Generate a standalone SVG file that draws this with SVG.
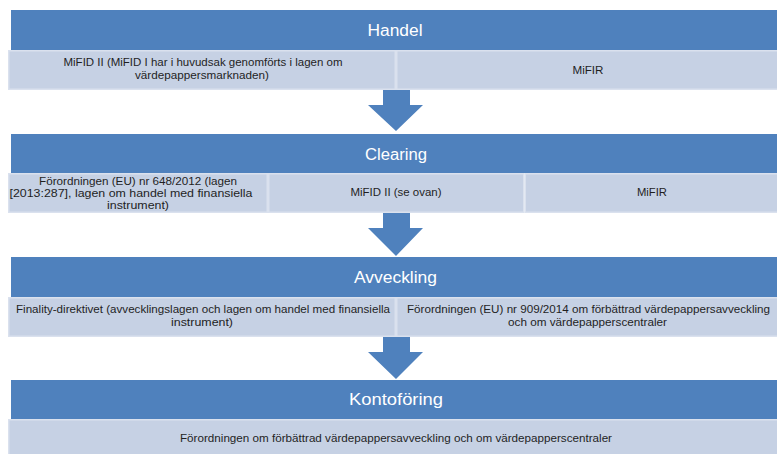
<svg xmlns="http://www.w3.org/2000/svg" width="777" height="454" viewBox="0 0 777 454">
<style>
.hdr{fill:#4F81BD}
.cell{fill:#C6D1E4;stroke:#DAE1EE;stroke-width:1.5}
.ht{font-family:"Liberation Sans",Arial,sans-serif;font-size:16px;fill:#FFFFFF;text-anchor:middle}
.ct{font-family:"Liberation Sans",Arial,sans-serif;font-size:10px;fill:#1F1F1F;text-anchor:middle}
.arr{fill:#4F81BD}
</style>
<rect width="777" height="454" fill="#FFFFFF"/>
<g id="handel">
<rect class="hdr" x="11" y="10" width="766" height="40"/>
<text class="ht" x="395" y="36" textLength="55" lengthAdjust="spacingAndGlyphs">Handel</text>
</g>
<g id="handel-mifid">
<rect class="cell" x="8.75" y="50.75" width="386.5" height="38.5"/>
<text class="ct" x="203" y="66" textLength="279" lengthAdjust="spacingAndGlyphs">MiFID II (MiFID I har i huvudsak genomförts i lagen om</text>
<text class="ct" x="202" y="79" textLength="134" lengthAdjust="spacingAndGlyphs">värdepappersmarknaden)</text>
</g>
<g id="handel-mifir">
<rect class="cell" x="396.75" y="50.75" width="381" height="38.5"/>
<text class="ct" x="588" y="74" textLength="31" lengthAdjust="spacingAndGlyphs">MiFIR</text>
</g>
<g id="clearing">
<rect class="hdr" x="11" y="134" width="766" height="39"/>
<text class="ht" x="396" y="160" textLength="62" lengthAdjust="spacingAndGlyphs">Clearing</text>
</g>
<g id="clearing-emir">
<rect class="cell" x="8.75" y="173.75" width="258.5" height="38.5"/>
<text class="ct" x="138" y="185" textLength="198" lengthAdjust="spacingAndGlyphs">Förordningen (EU) nr 648/2012 (lagen</text>
<text class="ct" x="131" y="197" textLength="243" lengthAdjust="spacingAndGlyphs">[2013:287],  lagen om handel med finansiella</text>
<text class="ct" x="138" y="209" textLength="62" lengthAdjust="spacingAndGlyphs">instrument)</text>
</g>
<g id="clearing-mifid">
<rect class="cell" x="268.75" y="173.75" width="255" height="38.5"/>
<text class="ct" x="396" y="196" textLength="91" lengthAdjust="spacingAndGlyphs">MiFID II (se ovan)</text>
</g>
<g id="clearing-mifir">
<rect class="cell" x="525.25" y="173.75" width="252.5" height="38.5"/>
<text class="ct" x="652" y="196" textLength="30" lengthAdjust="spacingAndGlyphs">MiFIR</text>
</g>
<g id="avveckling">
<rect class="hdr" x="11" y="257" width="766" height="40"/>
<text class="ht" x="395.5" y="283" textLength="83" lengthAdjust="spacingAndGlyphs">Avveckling</text>
</g>
<g id="avveckling-finality">
<rect class="cell" x="8.75" y="297.75" width="386.5" height="38.5"/>
<text class="ct" x="203" y="313" textLength="374" lengthAdjust="spacingAndGlyphs">Finality-direktivet (avvecklingslagen och lagen om handel med finansiella</text>
<text class="ct" x="202" y="326" textLength="62" lengthAdjust="spacingAndGlyphs">instrument)</text>
</g>
<g id="avveckling-csdr">
<rect class="cell" x="396.75" y="297.75" width="381" height="38.5"/>
<text class="ct" x="588.5" y="313" textLength="363" lengthAdjust="spacingAndGlyphs">Förordningen (EU) nr 909/2014 om förbättrad värdepappersavveckling</text>
<text class="ct" x="587.5" y="326" textLength="159" lengthAdjust="spacingAndGlyphs">och om värdepapperscentraler</text>
</g>
<g id="kontoforing">
<rect class="hdr" x="11" y="380" width="766" height="39"/>
<text class="ht" x="396" y="405" textLength="94" lengthAdjust="spacingAndGlyphs">Kontoföring</text>
</g>
<g id="kontoforing-csdr">
<rect class="cell" x="8.75" y="419.75" width="769" height="36"/>
<text class="ct" x="396" y="442" textLength="432" lengthAdjust="spacingAndGlyphs">Förordningen om förbättrad värdepappersavveckling och om värdepapperscentraler</text>
</g>
<g id="connectors">
<polygon class="arr" points="383,90 410,90 410,105 423,105 396,131 368,105 383,105"/>
<polygon class="arr" points="383,213 410,213 410,228 423,228 396,256 368,228 383,228"/>
<polygon class="arr" points="383,337 410,337 410,352 423,352 396,379 368,352 383,352"/>
</g>
</svg>
